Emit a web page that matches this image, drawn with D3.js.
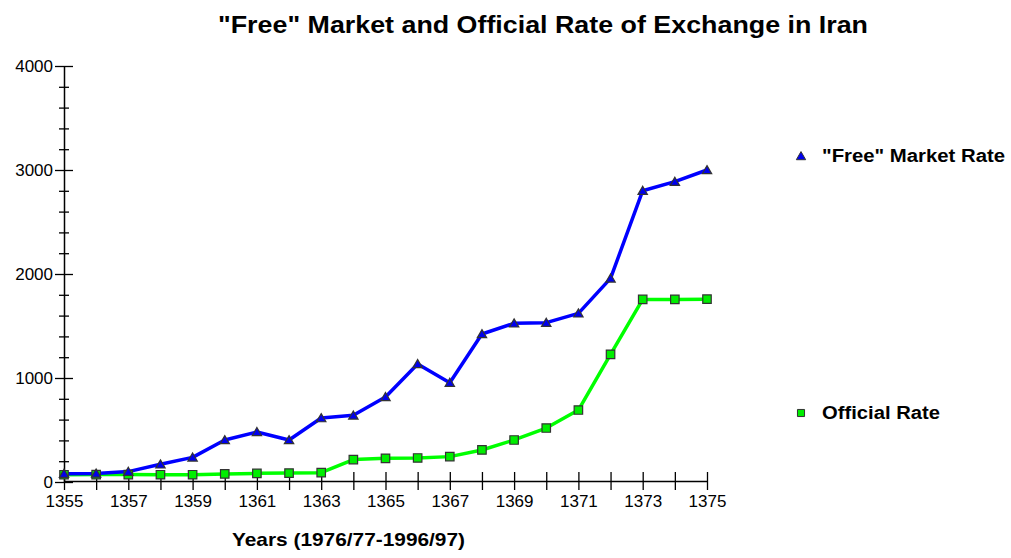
<!DOCTYPE html>
<html>
<head>
<meta charset="utf-8">
<script src="https://cdn.jsdelivr.net/npm/d3@7"></script>
<style>
  body { margin: 0; background: #fff; }
  text { font-family: "Liberation Sans", Arial, sans-serif; }
</style>
</head>
<body>
<div class="chart"></div>
<script>
// data
const years = d3.range(1355, 1376);
const freeRate = [80, 82, 100, 170, 237, 404, 481, 404, 615, 641, 818, 1135, 955, 1423, 1526, 1532, 1622, 1958, 2801, 2888, 3000];
const officialRate = [70, 71, 71, 70, 70, 78, 83, 86, 90, 216, 228, 231, 244, 308, 404, 519, 692, 1228, 1756, 1756, 1758];
const yMajor = [0, 1000, 2000, 3000, 4000];
const xLabelYears = d3.range(1355, 1376, 2);

const width = 1011, height = 558;

const svg = d3.select(".chart")
    .append("svg")
    .attr("width", width)
    .attr("height", height);

const xScale = d3.scaleLinear()
    .domain([1355, 1375])
    .range([64, 707]);

const yScale = d3.scaleLinear()
    .domain([0, 4000])
    .range([482, 66]);

// title
svg.append("text")
    .attr("x", 218)
    .attr("y", 33)
    .attr("font-size", 24)
    .attr("font-weight", "bold")
    .attr("textLength", 650)
    .attr("lengthAdjust", "spacingAndGlyphs")
    .text('"Free" Market and Official Rate of Exchange in Iran');

// y axis: minor ticks every 200
const yAxis = d3.axisLeft(yScale)
    .tickValues(d3.range(0, 4001, 200))
    .tickSize(0)
    .tickPadding(11)
    .tickFormat(d => yMajor.includes(d) ? d : "");

const yAxisGroup = svg.append("g")
    .attr("class", "axis y-axis")
    .attr("transform", `translate(${xScale(1355)},0)`)
    .call(yAxis);
yAxisGroup.select(".domain").attr("stroke", "#000").attr("stroke-width", 1.5);
yAxisGroup.selectAll(".tick line")
    .attr("x1", d => yMajor.includes(d) ? -9 : -5)
    .attr("x2", d => yMajor.includes(d) ? 9 : 5)
    .attr("stroke", "#000")
    .attr("stroke-width", 1.3);
yAxisGroup.selectAll(".tick text")
    .attr("font-size", 17)
    .attr("fill", "#000");

// x axis
const xAxis = d3.axisBottom(xScale)
    .tickValues(years)
    .tickSize(0)
    .tickPadding(14)
    .tickFormat(d => xLabelYears.includes(d) ? d : "");

const xAxisGroup = svg.append("g")
    .attr("class", "axis x-axis")
    .attr("transform", `translate(0,${yScale(0) - 1})`)
    .call(xAxis);
xAxisGroup.select(".domain").attr("stroke", "#000").attr("stroke-width", 1.5);
xAxisGroup.selectAll(".tick line")
    .attr("y1", -9)
    .attr("y2", 9)
    .attr("stroke", "#000")
    .attr("stroke-width", 1.3);
xAxisGroup.selectAll(".tick text")
    .attr("font-size", 17)
    .attr("fill", "#000");

// x label
svg.append("text")
    .attr("x", 232)
    .attr("y", 546)
    .attr("font-size", 19)
    .attr("font-weight", "bold")
    .attr("textLength", 233)
    .attr("lengthAdjust", "spacingAndGlyphs")
    .text("Years (1976/77-1996/97)");

// lines
const line = d3.line()
    .x((d, i) => xScale(years[i]))
    .y(d => yScale(d));

svg.append("path")
    .datum(officialRate)
    .attr("fill", "none")
    .attr("stroke", "#00ff00")
    .attr("stroke-width", 3.5)
    .attr("stroke-linejoin", "round")
    .attr("d", line);

svg.append("path")
    .datum(freeRate)
    .attr("fill", "none")
    .attr("stroke", "#0000ff")
    .attr("stroke-width", 3.5)
    .attr("stroke-linejoin", "round")
    .attr("d", line);

// markers
const tri = d3.symbol().type(d3.symbolTriangle).size(38);
const sq = d3.symbol().type(d3.symbolSquare).size(72);

svg.selectAll(".sq")
    .data(officialRate)
    .enter()
    .append("path")
    .attr("class", "sq")
    .attr("d", sq)
    .attr("transform", (d, i) => `translate(${xScale(years[i])},${yScale(d)})`)
    .attr("fill", "#00ee00")
    .attr("stroke", "#333")
    .attr("stroke-width", 1.2);

svg.selectAll(".tri")
    .data(freeRate)
    .enter()
    .append("path")
    .attr("class", "tri")
    .attr("d", tri)
    .attr("transform", (d, i) => `translate(${xScale(years[i])},${yScale(d) + 1})`)
    .attr("fill", "#0000ee")
    .attr("stroke", "#333")
    .attr("stroke-width", 1.2);

// legend
svg.append("path")
    .attr("d", tri)
    .attr("transform", "translate(801,157)")
    .attr("fill", "#0000ee")
    .attr("stroke", "#333")
    .attr("stroke-width", 1);

svg.append("text")
    .attr("x", 822)
    .attr("y", 162)
    .attr("font-size", 18)
    .attr("font-weight", "bold")
    .attr("textLength", 183)
    .attr("lengthAdjust", "spacingAndGlyphs")
    .text('"Free" Market Rate');

svg.append("path")
    .attr("d", d3.symbol().type(d3.symbolSquare).size(50))
    .attr("transform", "translate(801,413)")
    .attr("fill", "#00ee00")
    .attr("stroke", "#333")
    .attr("stroke-width", 1);

svg.append("text")
    .attr("x", 822)
    .attr("y", 419)
    .attr("font-size", 18)
    .attr("font-weight", "bold")
    .attr("textLength", 118)
    .attr("lengthAdjust", "spacingAndGlyphs")
    .text("Official Rate");
</script>
</body>
</html>
